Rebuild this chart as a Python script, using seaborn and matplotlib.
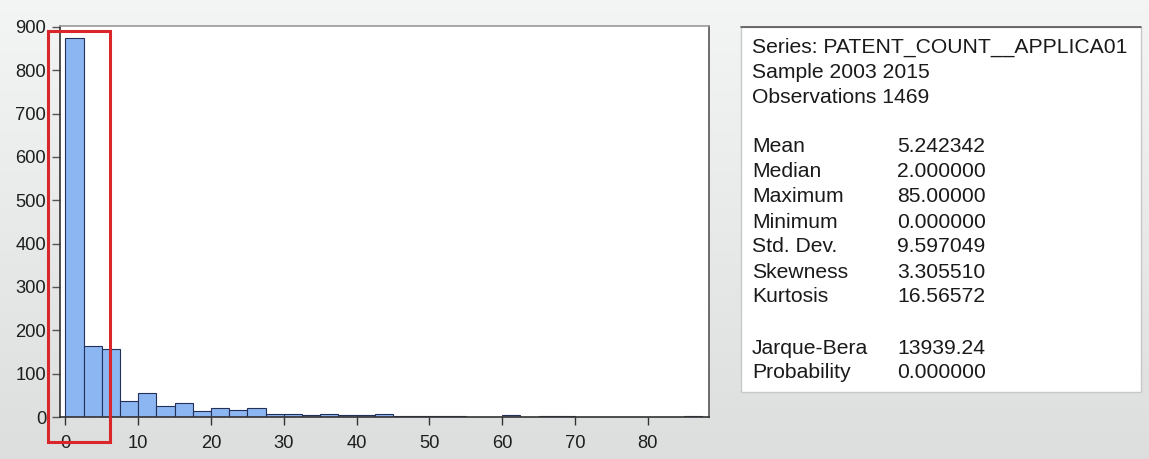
import numpy as np
import pandas as pd
import matplotlib
matplotlib.use("Agg")
import matplotlib.pyplot as plt
import matplotlib.patches as mpatches
import matplotlib.lines as mlines
import seaborn as sns

# Histogram of patent application counts (bin width 2.5)
bin_start = 0.0
bin_width = 2.5
bin_counts = [874, 163, 157, 36, 55, 25, 33, 14, 20, 17, 20, 8, 8, 4, 7, 4,
              4, 7, 3, 3, 2, 2, 1, 0, 5, 0, 2, 2, 0, 0, 0, 0, 0, 0, 2]
y_ticks = [0, 100, 200, 300, 400, 500, 600, 700, 800, 900]
x_ticks = [0, 10, 20, 30, 40, 50, 60, 70, 80]

# Descriptive statistics panel
header_lines = ["Series: PATENT_COUNT__APPLICA01", "Sample 2003 2015", "Observations 1469"]
stat_names = ["Mean", "Median", "Maximum", "Minimum", "Std. Dev.", "Skewness", "Kurtosis"]
stat_values = ["5.242342", "2.000000", "85.00000", "0.000000", "9.597049", "3.305510", "16.56572"]
test_names = ["Jarque-Bera", "Probability"]
test_values = ["13939.24", "0.000000"]

n_bins = len(bin_counts)
centers = bin_start + bin_width * (np.arange(n_bins) + 0.5)
df = pd.DataFrame({"center": centers, "count": bin_counts})

sns.set_theme(style="white")
plt.rcParams["font.family"] = ["Liberation Sans", "DejaVu Sans"]

W, H = 1149, 459
fig = plt.figure(figsize=(W / 100, H / 100), dpi=100)

def fx(px):
    return px / W

def fy(py):
    return 1 - py / H

# soft grey backdrop, lighter at the top
bg = fig.add_axes([0, 0, 1, 1], zorder=-10)
grad = np.linspace(0.955, 0.865, 256).reshape(-1, 1)
bg.imshow(np.dstack([grad, grad + 0.004, grad + 0.004]), aspect="auto", extent=[0, 1, 0, 1])
bg.set_axis_off()

ax = fig.add_axes([fx(60), fy(417), fx(709) - fx(60), fy(26) - fy(417)])
ax.set_facecolor("white")
sns.histplot(data=df, x="center", weights="count", binwidth=bin_width,
             binrange=(bin_start, bin_start + bin_width * n_bins), ax=ax,
             color="#8cb6f2", alpha=1.0, edgecolor="#22305a", linewidth=0.8)
ax.set_xlim(-0.75, 88.4)
ax.set_ylim(0, 902)
ax.set_xlabel("")
ax.set_ylabel("")
ax.set_xticks(x_ticks)
ax.set_yticks(y_ticks)
ax.tick_params(axis="both", labelsize=13.2, labelcolor="#1e1e1e", length=6, width=1.0,
               direction="out", bottom=True, left=True)
ax.tick_params(axis="x", color="#333333", pad=7)
ax.tick_params(axis="y", color="#555555", pad=4)
for side, col in [("left", "#333333"), ("bottom", "#333333"), ("right", "#555555"), ("top", "#9a9a9a")]:
    ax.spines[side].set_color(col)
    ax.spines[side].set_linewidth(1.2)

# highlight frame around the first bins
fig.add_artist(mpatches.Rectangle((fx(47.5), fy(442)), fx(110) - fx(47.5), fy(31) - fy(442),
                                  transform=fig.transFigure, fill=False,
                                  edgecolor="#d8262a", linewidth=2.2, zorder=20))

# statistics panel
fig.add_artist(mpatches.Rectangle((fx(740.5), fy(392)), fx(1141) - fx(740.5), fy(27) - fy(392),
                                  transform=fig.transFigure, facecolor="white",
                                  edgecolor="#c8c8c8", linewidth=1.0, zorder=1))
fig.add_artist(mlines.Line2D([fx(740.5), fx(1141)], [fy(27), fy(27)],
                             transform=fig.transFigure, color="#555555", linewidth=1.2, zorder=2))

txt_kw = dict(fontsize=15.2, color="#1a1a1a", va="center", ha="left", zorder=5)
for i, s in enumerate(header_lines):
    fig.text(fx(752), fy(47 + 25 * i), s, **txt_kw)
for i, (n, v) in enumerate(zip(stat_names, stat_values)):
    fig.text(fx(752), fy(147 + 25 * i), n, **txt_kw)
    fig.text(fx(897), fy(147 + 25 * i), v, **txt_kw)
for i, (n, v) in enumerate(zip(test_names, test_values)):
    fig.text(fx(752), fy(348 + 24.5 * i), n, **txt_kw)
    fig.text(fx(897), fy(348 + 24.5 * i), v, **txt_kw)

fig.savefig("out.png", dpi=100)
